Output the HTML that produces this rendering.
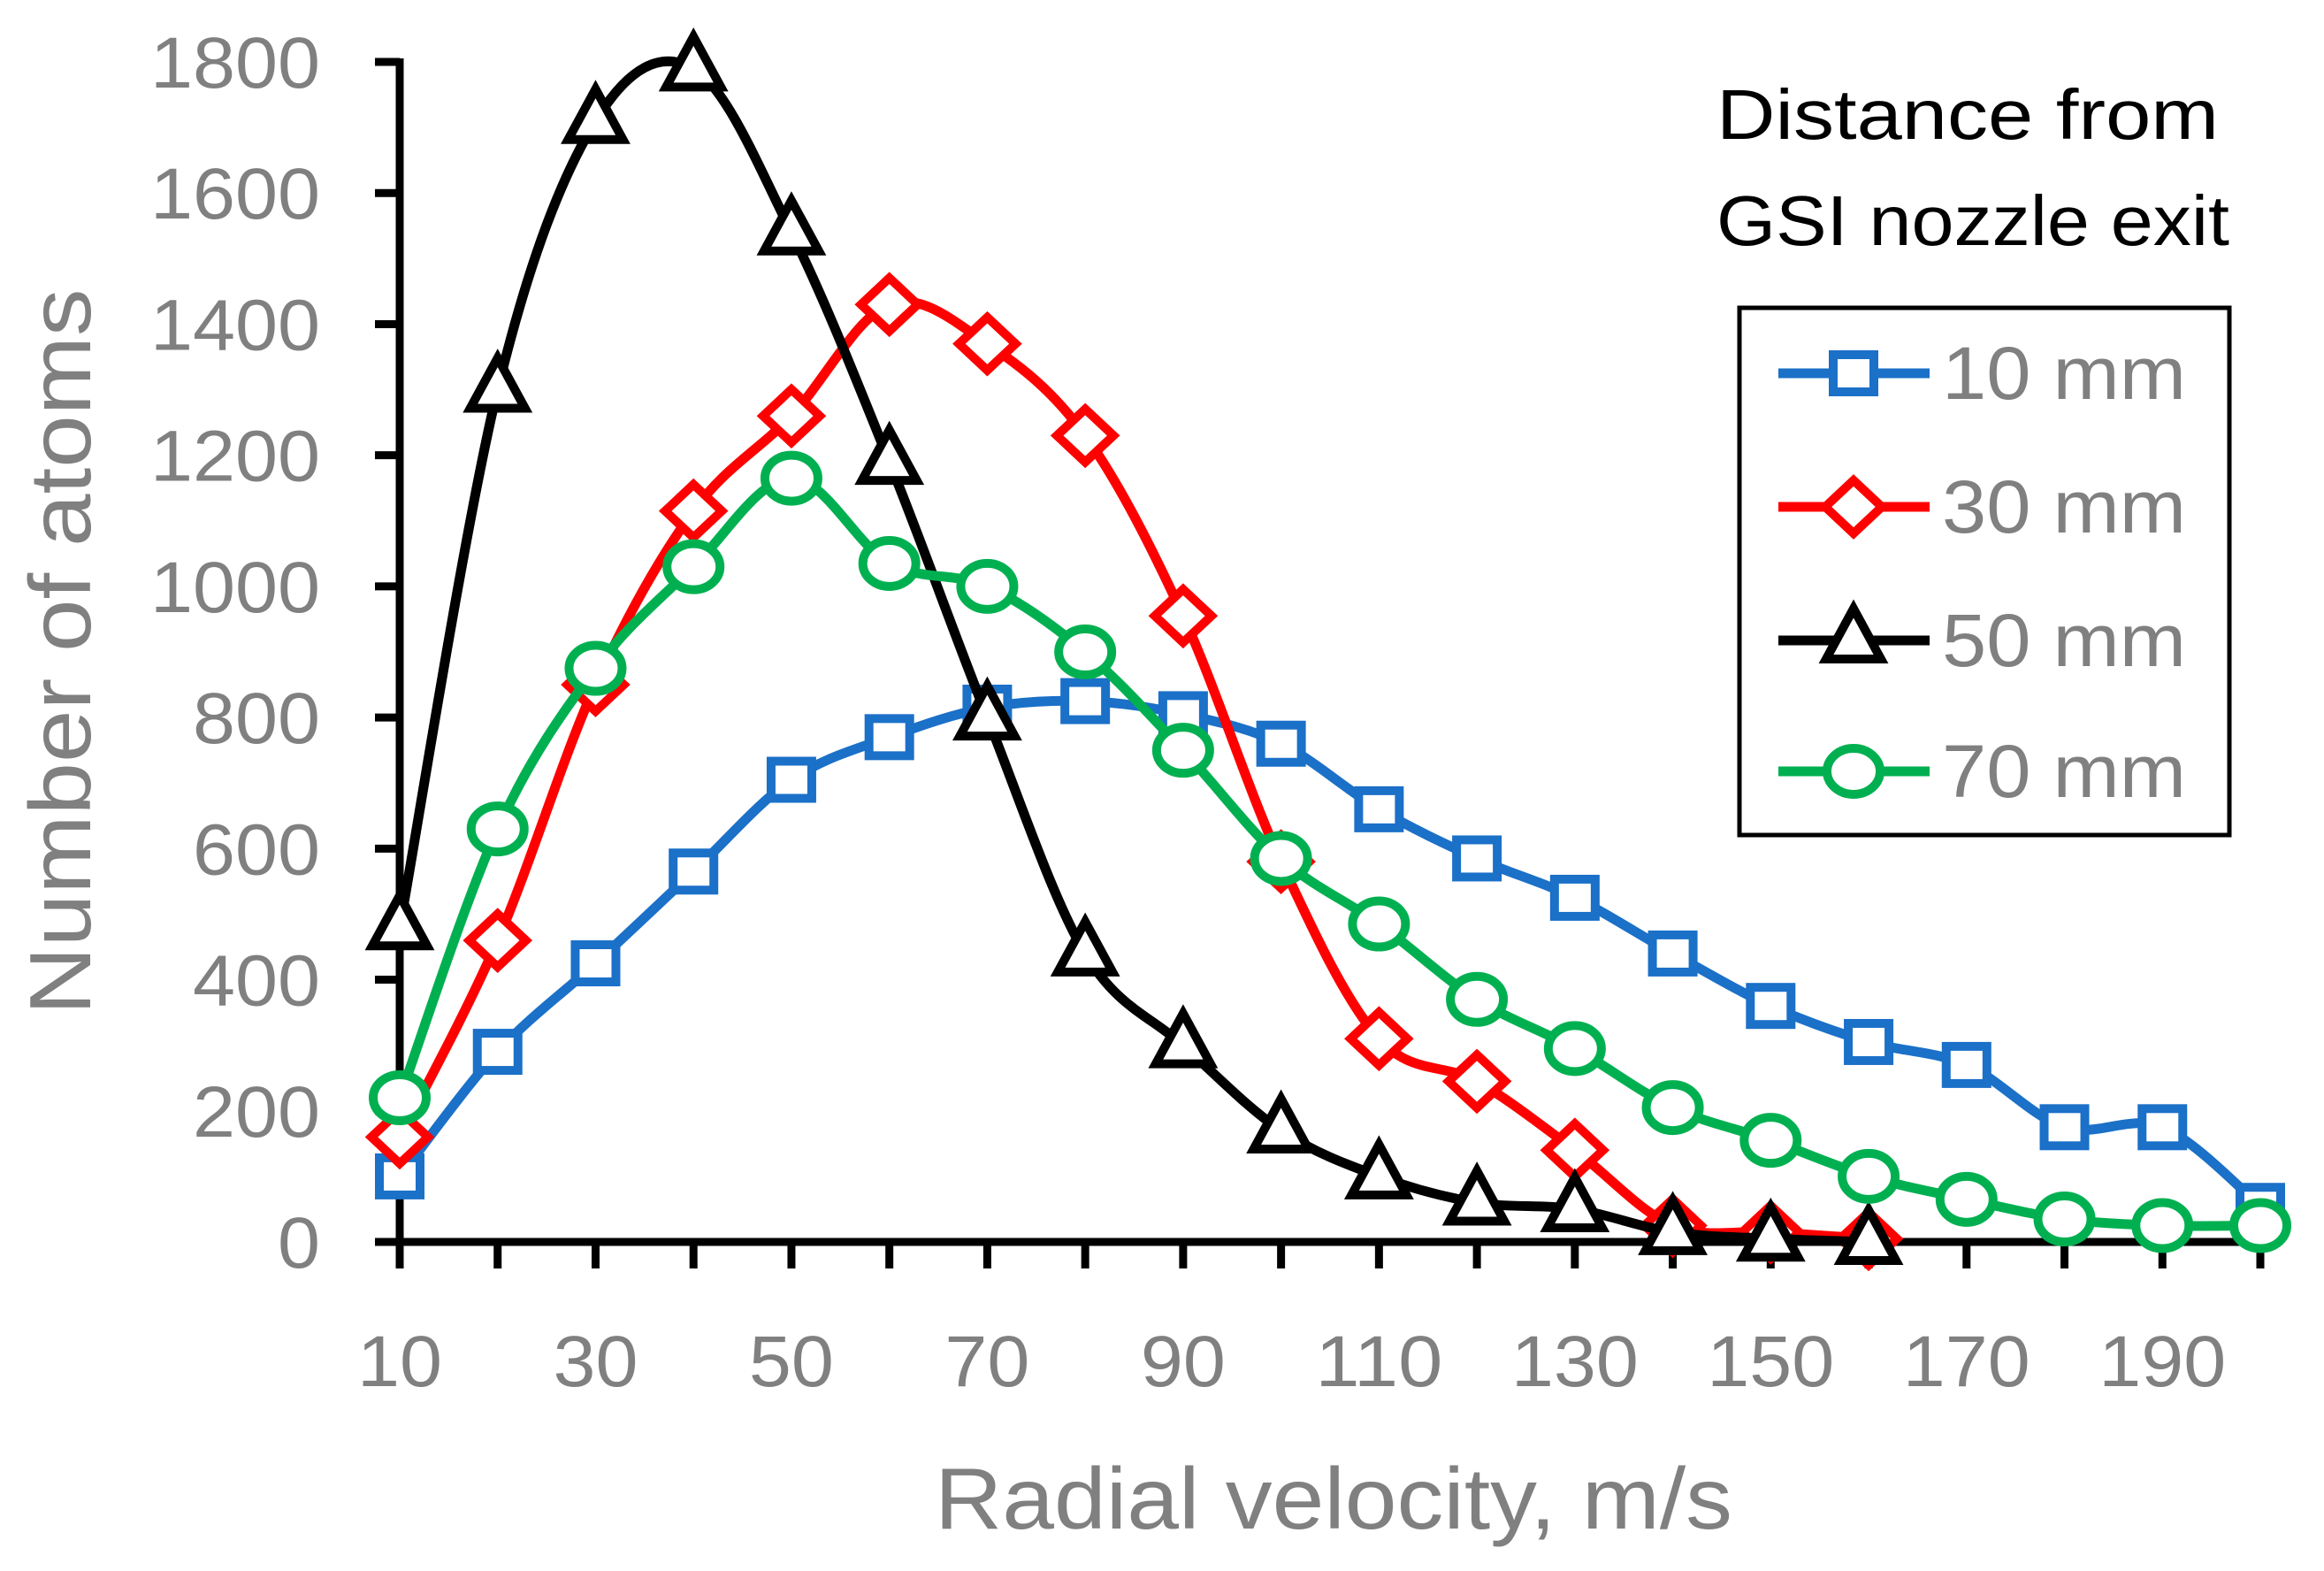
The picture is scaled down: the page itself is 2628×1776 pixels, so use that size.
<!DOCTYPE html>
<html><head><meta charset="utf-8"><style>
html,body{margin:0;padding:0;background:#fff;}
svg{display:block;font-family:"Liberation Sans",sans-serif;}
</style></head><body>
<svg id="chart" width="2628" height="1776" viewBox="0 0 2628 1776" xmlns="http://www.w3.org/2000/svg">
<g id="axes"></g>
<g id="series"></g>
<g id="legend"></g>
</svg>
<script>
const categories = [10,20,30,40,50,60,70,80,90,100,110,120,130,140,150,160,170,180,190,200];
const xTickLabels = [10,30,50,70,90,110,130,150,170,190];
const yTickLabels = [0,200,400,600,800,1000,1200,1400,1600,1800];
const seriesNames = ["10 mm","30 mm","50 mm","70 mm"];
const s10 = [100,290,425,565,705,770,815,825,805,760,660,585,525,440,360,305,270,175,175,55];
const s30 = [160,460,850,1115,1260,1430,1370,1230,955,580,310,245,140,25,15,5];
const s50 = [480,1300,1710,1790,1540,1190,800,440,300,170,100,60,50,15,5,0];
const s70 = [220,630,875,1030,1165,1035,1000,900,750,585,485,370,295,205,155,100,65,35,25,25];

const NS="http://www.w3.org/2000/svg";
const X0=452, X1=2556, Y0=1404, Y1=70;
function xs(v){return X0+(v-10)/190*(X1-X0);}
function ys(v){return Y0-(v/1800)*(Y0-Y1);}
function mk(tag,attrs,parent){const e=document.createElementNS(NS,tag);for(const k in attrs)e.setAttribute(k,attrs[k]);parent.appendChild(e);return e;}
const axes=document.getElementById('axes'), ser=document.getElementById('series'), leg=document.getElementById('legend');
const GREY="#808080";

let a=mk('line',{x1:X0,y1:Y1-4,x2:X0,y2:Y0+4,stroke:'#000','stroke-width':9},axes);


a=mk('line',{x1:X0-28,y1:Y0,x2:X1+8,y2:Y0,stroke:'#000','stroke-width':9},axes);


yTickLabels.forEach(v=>{
  const t=mk('line',{x1:X0-28,y1:ys(v),x2:X0,y2:ys(v),stroke:'#000','stroke-width':9},axes);
  
  
  const s=String(v);
  const l=mk('text',{x:362,y:ys(v)+29,'text-anchor':'end','font-size':82,fill:GREY,textLength:s.length*48,lengthAdjust:'spacingAndGlyphs'},axes);
  l.textContent=s;
  
  
});
categories.forEach(v=>{
  const t=mk('line',{x1:xs(v),y1:Y0,x2:xs(v),y2:Y0+30,stroke:'#000','stroke-width':9},axes);
  
  
});
xTickLabels.forEach(v=>{
  const s=String(v);
  const l=mk('text',{x:xs(v),y:1567,'text-anchor':'middle','font-size':82,fill:GREY,textLength:s.length*48,lengthAdjust:'spacingAndGlyphs'},axes);
  l.textContent=s;
  
  
});
let tt=mk('text',{x:1508,y:1728,'text-anchor':'middle','font-size':98,fill:GREY,textLength:902,lengthAdjust:'spacingAndGlyphs'},axes);
tt.textContent="Radial velocity, m/s";


tt=mk('text',{x:0,y:0,'text-anchor':'middle','font-size':98,fill:GREY,textLength:821,lengthAdjust:'spacingAndGlyphs',transform:'translate(102,737) rotate(-90)'},axes);
tt.textContent="Number of atoms";



function spline(pts){
  let d=`M${pts[0][0]},${pts[0][1]}`;
  for(let i=0;i<pts.length-1;i++){
    const p0=pts[i-1]||pts[i],p1=pts[i],p2=pts[i+1],p3=pts[i+2]||p2;
    const t=1/6;
    const c1=[p1[0]+(p2[0]-p0[0])*t,p1[1]+(p2[1]-p0[1])*t];
    const c2=[p2[0]-(p3[0]-p1[0])*t,p2[1]-(p3[1]-p1[1])*t];
    d+=` C${c1[0]},${c1[1]} ${c2[0]},${c2[1]} ${p2[0]},${p2[1]}`;
  }
  return d;
}
function marker(type,x,y,color,parent){
  const sw=10;
  let e;
  if(type==='square') e=mk('rect',{x:x-23,y:y-21,width:46,height:42,fill:'#fff',stroke:color,'stroke-width':sw},parent);
  else if(type==='diamond') e=mk('polygon',{points:`${x},${y-30} ${x+32},${y} ${x},${y+30} ${x-32},${y}`,fill:'#fff',stroke:color,'stroke-width':sw},parent);
  else if(type==='triangle') e=mk('polygon',{points:`${x},${y-36} ${x+31},${y+21} ${x-31},${y+21}`,fill:'#fff',stroke:color,'stroke-width':sw,'stroke-linejoin':'miter'},parent);
  else e=mk('ellipse',{cx:x,cy:y,rx:30,ry:26,fill:'#fff',stroke:color,'stroke-width':sw},parent);
  return e;
}
const defs=[[s10,'#1b70c8','square'],[s30,'#ff0000','diamond'],[s50,'#000000','triangle'],[s70,'#00b050','circle']];
defs.forEach((d,si)=>{
  const g=mk('g',{},ser);
  
  
  const pts=d[0].map((v,i)=>[xs(categories[i]),ys(v)]);
  const p=mk('path',{d:spline(pts),fill:'none',stroke:d[1],'stroke-width':11,'stroke-linejoin':'round'},g);
  
  
  pts.forEach(pt=>{
    const m=marker(d[2],pt[0],pt[1],d[1],g);
    
    
  });
});

let lt=mk('text',{x:1941,y:157,'font-size':80,fill:'#000',textLength:568,lengthAdjust:'spacingAndGlyphs'},leg);
lt.textContent="Distance from";


lt=mk('text',{x:1941,y:277,'font-size':80,fill:'#000',textLength:580,lengthAdjust:'spacingAndGlyphs'},leg);
lt.textContent="GSI nozzle exit";


const box=mk('rect',{x:1967,y:348,width:554,height:596,fill:'none',stroke:'#000','stroke-width':5},leg);


const rowY=[422,573,724,872];
defs.forEach((d,i)=>{
  const g=mk('g',{},leg);
  
  
  mk('line',{x1:2011,y1:rowY[i],x2:2182,y2:rowY[i],stroke:d[1],'stroke-width':11},g);
  marker(d[2],2096,rowY[i],d[1],g);
  const t=mk('text',{x:2196,y:rowY[i]+29,'font-size':84,fill:GREY,textLength:276,lengthAdjust:'spacingAndGlyphs'},g);
  t.textContent=seriesNames[i];
});
</script>
</body></html>
